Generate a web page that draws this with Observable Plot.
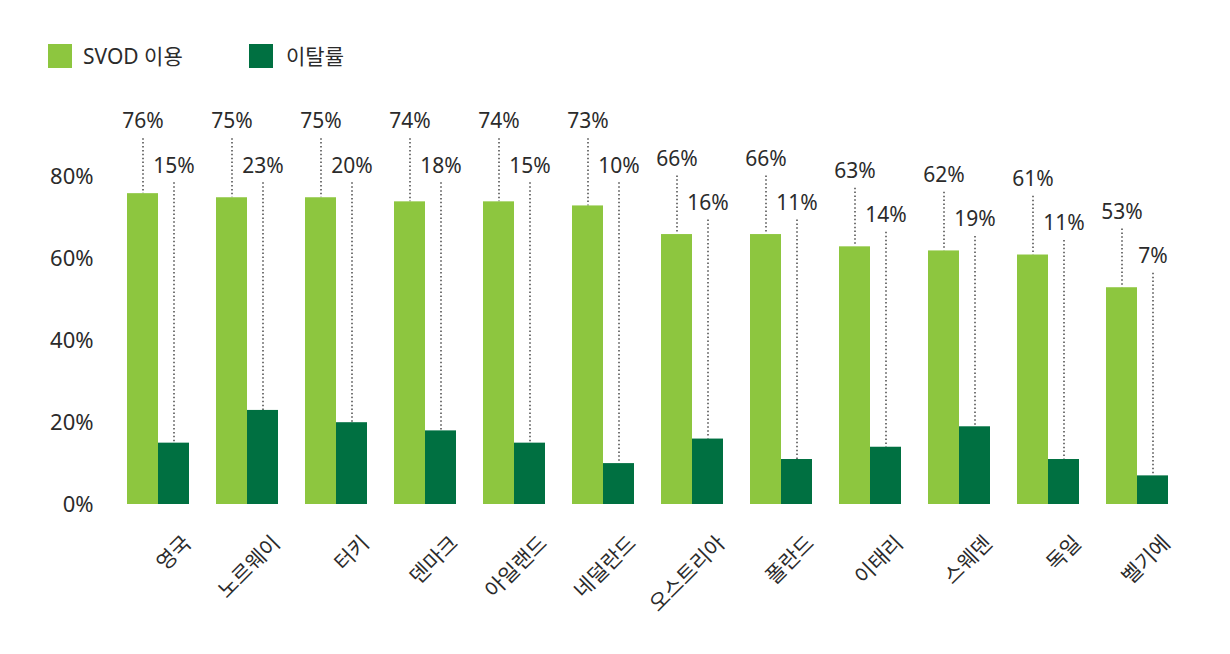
<!DOCTYPE html>
<html>
<head>
<meta charset="utf-8">
<script src="https://cdn.jsdelivr.net/npm/d3@7"></script>
<script src="https://cdn.jsdelivr.net/npm/@observablehq/plot@0.6"></script>
<style>
  html, body { margin: 0; padding: 0; background: #fff; }
  body { font-family: "Noto Sans", "Noto Sans CJK KR", sans-serif; color: #2b2b2b; width: 1230px; overflow: hidden; }
  #legend { position: relative; height: 90px; }
  .sw { position: absolute; top: 44px; width: 24px; height: 24px; }
  .lt { position: absolute; top: 40px; font-size: 21px; line-height: 32px; white-space: nowrap; }
  #chart svg { display: block; }
</style>
</head>
<body>
<div id="legend"></div>
<div id="chart"></div>
<script>
// ---- data ----
const countries = ["영국", "노르웨이", "터키", "덴마크", "아일랜드", "네덜란드", "오스트리아", "폴란드", "이태리", "스웨덴", "독일", "벨기에"];
const svodUse = [76, 75, 75, 74, 74, 73, 66, 66, 63, 62, 61, 53];
const churnRate = [15, 23, 20, 18, 15, 10, 16, 11, 14, 19, 11, 7];
const seriesNames = ["SVOD 이용", "이탈률"];
const seriesColors = ["#8dc63f", "#007041"];
const yTicks = [0, 20, 40, 60, 80];

// ---- label placement rule (layout) ----
const topLabel = v => (v >= 70 ? 93.6 : v + 18.5);

const rows = [];
countries.forEach((c, i) => {
  const lt = topLabel(svodUse[i]);
  rows.push({country: c, series: seriesNames[0], value: svodUse[i], label: lt});
  rows.push({country: c, series: seriesNames[1], value: churnRate[i], label: lt - 10.8});
});

// ---- legend ----
const legend = document.getElementById("legend");
const swX = [48, 249], txX = [83, 286];
seriesNames.forEach((name, i) => {
  const sw = document.createElement("div");
  sw.className = "sw"; sw.style.left = swX[i] + "px"; sw.style.background = seriesColors[i];
  const t = document.createElement("div");
  t.className = "lt"; t.style.left = txX[i] + "px"; t.textContent = name;
  legend.appendChild(sw); legend.appendChild(t);
});

const font = "'Noto Sans', 'Noto Sans CJK KR', sans-serif";
const ink = "#2b2b2b";

const chart = Plot.plot({
  width: 1230,
  height: 564,
  marginLeft: 127,
  marginRight: 61,
  marginTop: 5,
  marginBottom: 150,
  style: {fontFamily: font, fontSize: "21px", color: ink, background: "#fff"},
  fx: {domain: countries, paddingInner: 0.3, paddingOuter: 0, axis: null, label: null},
  x: {domain: seriesNames, padding: 0, axis: null},
  y: {domain: [0, 100], label: null},
  color: {domain: seriesNames, range: seriesColors},
  marks: [
    Plot.ruleX(rows, {fx: "country", x: "series", y1: "label", y2: "value", insetTop: 17,
      stroke: "#5e5e5e", strokeWidth: 1.7, strokeDasharray: "1.5 2.4"}),
    Plot.barY(rows, {fx: "country", x: "series", y: "value", fill: "series"}),
    Plot.text(rows, {fx: "country", x: "series", y: "label", text: d => d.value + "%",
      fontSize: 21, fill: ink}),
    Plot.text(countries, {fx: d => d, text: d => d, frameAnchor: "bottom", rotate: -45,
      textAnchor: "end", dx: 34, dy: 40, fontSize: 21, fill: ink}),
    Plot.axisY({ticks: yTicks, tickFormat: d => d + "%", tickSize: 0, tickPadding: 34,
      fontSize: 22, fill: ink, label: null})
  ]
});
document.getElementById("chart").appendChild(chart);
</script>
</body>
</html>
